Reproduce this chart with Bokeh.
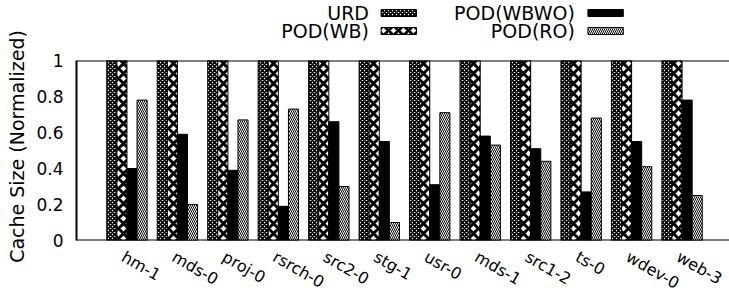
import math
from bokeh.plotting import figure
from bokeh.models import Range1d, FixedTicker, ColumnDataSource, Span
from bokeh.layouts import column, row
from bokeh.transform import dodge
from bokeh.embed import file_html
from bokeh.resources import INLINE
from bokeh.core.properties import value

# ---------------- data ----------------
categories = ["hm-1", "mds-0", "proj-0", "rsrch-0", "src2-0", "stg-1",
              "usr-0", "mds-1", "src1-2", "ts-0", "wdev-0", "web-3"]
urd      = [1.0, 1.0, 1.0, 1.0, 1.0, 1.0, 1.0, 1.0, 1.0, 1.0, 1.0, 1.0]
pod_wb   = [1.0, 1.0, 1.0, 1.0, 1.0, 1.0, 1.0, 1.0, 1.0, 1.0, 1.0, 1.0]
pod_wbwo = [0.40, 0.59, 0.39, 0.19, 0.66, 0.55, 0.31, 0.58, 0.51, 0.27, 0.55, 0.78]
pod_ro   = [0.78, 0.20, 0.67, 0.73, 0.30, 0.10, 0.71, 0.53, 0.44, 0.68, 0.41, 0.25]
series_names = ["URD", "POD(WB)", "POD(WBWO)", "POD(RO)"]
y_ticks = [0, 0.2, 0.4, 0.6, 0.8, 1]
y_tick_labels = ["0", "0.2", "0.4", "0.6", "0.8", "1"]
y_label = "Cache Size (Normalized)"

# ---------------- styles / layout constants ----------------
FONT = "DejaVu Sans"
styles = [
    dict(fill_color="white", hatch_pattern="diagonal_cross", hatch_scale=4,
         hatch_weight=1.8, hatch_color="black"),
    dict(fill_color="white", hatch_pattern="diagonal_cross", hatch_scale=10,
         hatch_weight=3, hatch_color="black"),
    dict(fill_color="black"),
    dict(fill_color="white", hatch_pattern="left_diagonal_line", hatch_scale=4,
         hatch_weight=1, hatch_color="black"),
]
offsets = [-0.3, -0.1, 0.1, 0.3]
bar_w = 0.2
TOTAL_W, TOTAL_H = 729, 293
YL_W = 28              # width of the y-title strip
COL_W = TOTAL_W - YL_W
LEG_H = 48
MAIN_TOP, FRAME_H, MAIN_BOT = 12, 180, 11
MAIN_H = MAIN_TOP + FRAME_H + MAIN_BOT
OVERLAP = 9            # label strip slides up under the main plot's bottom border
XL_H = TOTAL_H - LEG_H - MAIN_H + OVERLAP
INNER_LEFT = 76 - YL_W

def bare(**kw):
    f = figure(output_backend="svg", toolbar_location=None,
               x_axis_type=None, y_axis_type=None, **kw)
    f.grid.visible = False
    f.outline_line_color = None
    return f

src = ColumnDataSource(dict(
    idx=list(range(len(categories))),
    URD=urd, WB=pod_wb, WBWO=pod_wbwo, RO=pod_ro,
))
cols = ["URD", "WB", "WBWO", "RO"]

# ---------------- main plot ----------------
xr = Range1d(-1, 11.94)
p = figure(width=COL_W, height=MAIN_H, x_range=xr, y_range=Range1d(0, 1),
           output_backend="svg", toolbar_location=None, x_axis_type=None,
           min_border_left=INNER_LEFT, min_border_right=0,
           min_border_top=MAIN_TOP, min_border_bottom=MAIN_BOT)
p.grid.visible = False
p.outline_line_color = None

for c, off, st in zip(cols, offsets, styles):
    p.vbar(x=dodge("idx", off), top=c, bottom=0, width=bar_w, source=src,
           line_color="black", line_width=1, **st)

p.add_layout(Span(location=1, dimension="width", line_color="black", line_width=2))
p.add_layout(Span(location=0, dimension="width", line_color="black", line_width=2))

ya = p.yaxis[0]
ya.ticker = FixedTicker(ticks=y_ticks)
ya.major_label_overrides = {t: l for t, l in zip(y_ticks, y_tick_labels)}
ya.major_tick_in = 0
ya.major_tick_out = 0
ya.minor_tick_line_color = None
ya.major_label_standoff = 13
ya.axis_line_color = "black"
ya.axis_line_width = 2
ya.major_label_text_font = FONT
ya.major_label_text_font_size = "17px"
ya.major_label_text_color = "black"

# ---------------- y title strip ----------------
yl = bare(width=YL_W, height=TOTAL_H, x_range=Range1d(0, YL_W),
          y_range=Range1d(TOTAL_H, 0), min_border=0)
yl.text(x=[16], y=[146], text=[y_label], angle=math.pi / 2,
        text_align="center", text_baseline="middle",
        text_font=value(FONT), text_font_size="19px", text_color="black")

# ---------------- rotated category labels ----------------
xl = bare(width=COL_W, height=XL_H, x_range=xr, y_range=Range1d(XL_H, 0),
          min_border_left=INNER_LEFT, min_border_right=0,
          min_border_top=0, min_border_bottom=0,
          margin=(-OVERLAP, 0, 0, 0))
xl.border_fill_color = None
xl.background_fill_color = None
lab_src = ColumnDataSource(dict(idx=list(range(len(categories))), name=categories))
xl.text(x=dodge("idx", -0.08), y=13, text="name", source=lab_src,
        angle=-math.radians(30), text_align="left", text_baseline="middle",
        text_font=value(FONT), text_font_size="16px", text_color="black")

# ---------------- legend (label then swatch, two columns) ----------------
lp = bare(width=COL_W, height=LEG_H, x_range=Range1d(YL_W, TOTAL_W),
          y_range=Range1d(LEG_H, 0), min_border=0)
col_text_right = [342, 563]
col_sw_left = [355, 577]
sw_w = 38
rows_y = [12.5, 30.5]
sw_h = 7
for i, (name, st) in enumerate(zip(series_names, styles)):
    ci, ri = i // 2, i % 2
    lp.text(x=[col_text_right[ci]], y=[rows_y[ri]], text=[name],
            text_align="right", text_baseline="middle",
            text_font=value(FONT), text_font_size="19px", text_color="black")
    lp.quad(left=[col_sw_left[ci]], right=[col_sw_left[ci] + sw_w],
            top=[rows_y[ri] - sw_h / 2], bottom=[rows_y[ri] + sw_h / 2],
            line_color="black", line_width=1, **st)

layout = row(yl, column(lp, p, xl, spacing=0), spacing=0)
open("out.html", "w").write(file_html(layout, INLINE))
